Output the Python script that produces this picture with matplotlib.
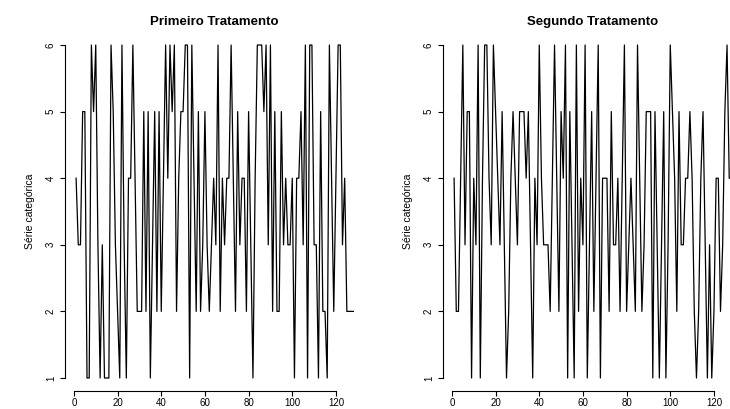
import matplotlib.pyplot as plt
import numpy as np

plt.rcParams['font.family'] = ['Liberation Sans', 'DejaVu Sans']

# series (values 1..6, index 1..128)
trat1 = [4, 3, 3, 5, 5, 1, 1, 6, 5, 6,
         3, 1, 3, 1, 1, 1, 6, 5, 3, 2,
         1, 6, 3, 1, 4, 4, 6, 4, 2, 2,
         2, 5, 2, 5, 1, 3, 5, 2, 5, 2,
         4, 6, 4, 6, 5, 6, 2, 4, 5, 5,
         6, 6, 1, 6, 4, 2, 5, 2, 3, 5,
         3, 2, 3, 4, 3, 6, 2, 4, 3, 4,
         4, 6, 4, 2, 5, 3, 4, 4, 2, 5,
         3, 1, 4, 6, 6, 6, 5, 6, 3, 6,
         2, 5, 2, 2, 5, 3, 4, 3, 3, 4,
         1, 4, 4, 5, 3, 6, 1, 6, 6, 3,
         3, 1, 5, 2, 2, 1, 6, 4, 2, 4,
         6, 6, 3, 4, 2, 2, 2, 2]

trat2 = [4, 2, 2, 4, 6, 3, 5, 5, 1, 4,
         3, 6, 1, 4, 6, 6, 4, 3, 6, 5,
         4, 3, 5, 3, 1, 2, 4, 5, 4, 3,
         5, 5, 5, 4, 5, 3, 1, 4, 3, 6,
         4, 3, 3, 3, 2, 4, 6, 4, 2, 5,
         4, 6, 1, 5, 3, 1, 6, 2, 4, 3,
         6, 1, 3, 5, 2, 4, 6, 1, 4, 4,
         4, 2, 5, 3, 3, 4, 2, 4, 6, 2,
         3, 4, 3, 2, 6, 4, 2, 3, 5, 5,
         5, 1, 5, 3, 1, 3, 5, 1, 3, 6,
         5, 4, 2, 5, 3, 3, 4, 4, 5, 4,
         2, 1, 2, 4, 5, 3, 1, 3, 1, 2,
         4, 4, 2, 3, 5, 6, 4, 4]

series = [trat1, trat2]
titles = ['Primeiro Tratamento', 'Segundo Tratamento']
ylab = 'Série categórica'
xticks = [0, 20, 40, 60, 80, 100, 120]
yticks = [1, 2, 3, 4, 5, 6]

W, H = 730, 409
fig = plt.figure(figsize=(W / 100, H / 100), dpi=100)

for k in range(2):
    serie = series[k]
    n = len(serie)
    x = np.arange(1, n + 1)
    # R-like plot region, second panel runs past the right edge
    left = 65 + 378 * k
    ax = fig.add_axes([left / W, 17.7 / H, 299.5 / W, 359.6 / H])
    ax.plot(x, serie, color='black', lw=0.9)

    pad = 0.04 * (n - 1)
    ax.set_xlim(1 - pad, n + pad)
    ax.set_ylim(0.8, 6.2)

    for s in ['top', 'right']:
        ax.spines[s].set_visible(False)
    ax.spines['bottom'].set_bounds(xticks[0], xticks[-1])
    ax.spines['left'].set_bounds(yticks[0], yticks[-1])
    for s in ['bottom', 'left']:
        ax.spines[s].set_linewidth(0.8)

    ax.set_xticks(xticks)
    ax.set_yticks(yticks)
    ax.set_yticklabels([str(v) for v in yticks], rotation=90, va='center')
    ax.tick_params(direction='out', length=3.5, width=0.8, labelsize=7)
    ax.tick_params(axis='x', pad=1.5)
    ax.tick_params(axis='y', pad=3)

    ax.set_title(titles[k], fontsize=9.5, fontweight='bold', pad=5)
    ax.set_ylabel(ylab, fontsize=7.5, labelpad=8)

fig.savefig('out.png', dpi=100)
